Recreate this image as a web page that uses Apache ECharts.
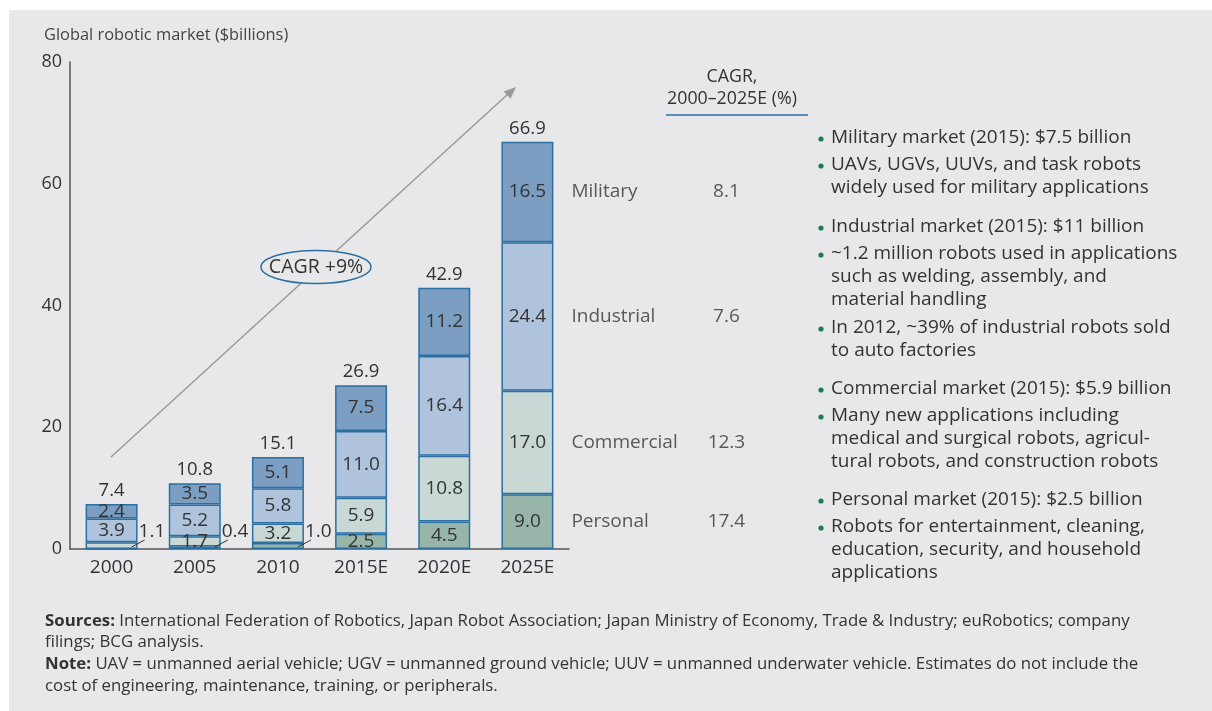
<!DOCTYPE html>
<html>
<head>
<meta charset="utf-8">
<script src="https://cdn.jsdelivr.net/npm/echarts@6/dist/echarts.min.js"></script>
<style>
  html, body { margin: 0; padding: 0; background: #fff; }
  #panel { position: absolute; left: 9px; top: 10px; width: 1203px; height: 701px; background: #e8e8ea; }
  #chart { position: absolute; left: 0; top: 0; width: 1212px; height: 711px; }
</style>
</head>
<body>
<div id="panel"></div>
<div id="chart"></div>
<script>
// values, $ billions
const years = ['2000', '2005', '2010', '2015E', '2020E', '2025E']
const personal = [0, 0.4, 1.0, 2.5, 4.5, 9.0]
const commercial = [1.1, 1.7, 3.2, 5.9, 10.8, 17.0]
const industrial = [3.9, 5.2, 5.8, 11.0, 16.4, 24.4]
const military = [2.4, 3.5, 5.1, 7.5, 11.2, 16.5]
const totals = [7.4, 10.8, 15.1, 26.9, 42.9, 66.9]

// CAGR 2000-2025E (%) per segment, bottom to top
const segmentNames = ['Personal', 'Commercial', 'Industrial', 'Military']
const segmentCagr = [17.4, 12.3, 7.6, 8.1]

// small segments whose value sits outside the bar with a leader line
const callouts = { Commercial: [0], Personal: [1, 2] }

const bullets = [
  [138, ['Military market (2015): $7.5 billion']],
  [165, ['UAVs, UGVs, UUVs, and task robots', 'widely used for military applications']],
  [227, ['Industrial market (2015): $11 billion']],
  [254, ['~1.2 million robots used in applications', 'such as welding, assembly, and', 'material handling']],
  [328, ['In 2012, ~39% of industrial robots sold', 'to auto factories']],
  [389, ['Commercial market (2015): $5.9 billion']],
  [416, ['Many new applications including', 'medical and surgical robots, agricul-', 'tural robots, and construction robots']],
  [500, ['Personal market (2015): $2.5 billion']],
  [527, ['Robots for entertainment, cleaning,', 'education, security, and household', 'applications']]
]

const FONT = '"Open Sans", sans-serif'
const TEXT = '#333'
const EDGE = '#2b6fa3'
const colors = ['#98b5aa', '#c9d8d4', '#b0c3dc', '#7b9ec2']
const seriesValues = [personal, commercial, industrial, military]

const chart = echarts.init(document.getElementById('chart'))

const barSeries = segmentNames.map((name, i) => {
  const outside = callouts[name] || []
  return {
    name,
    type: 'bar',
    stack: 'market',
    barWidth: 52,
    itemStyle: { color: colors[i], borderColor: EDGE, borderWidth: 1.5 },
    label: {
      show: true,
      position: 'inside',
      fontFamily: FONT,
      fontSize: 19,
      color: TEXT,
      formatter: p => (p.value > 0 ? p.value.toFixed(1) : '')
    },
    labelLayout: p => {
      if (outside.indexOf(p.dataIndex) < 0) return {}
      return {
        x: p.rect.x + p.rect.width + 1,
        y: p.rect.y + p.rect.height - 17,
        align: 'left',
        verticalAlign: 'middle'
      }
    },
    data: seriesValues[i]
  }
})

// zero-height bar on top of each stack carries the total
const totalSeries = {
  name: 'Total',
  type: 'bar',
  stack: 'market',
  barWidth: 52,
  itemStyle: { color: 'transparent' },
  label: {
    show: true,
    position: 'top',
    distance: 4,
    fontFamily: FONT,
    fontSize: 18.5,
    color: TEXT,
    formatter: p => totals[p.dataIndex].toFixed(1)
  },
  data: totals.map(() => 0)
}

// segment names and CAGR beside the 2025E bar
let base = 0
const nameSeries = {
  type: 'scatter',
  symbolSize: 0,
  silent: true,
  label: {
    show: true,
    position: 'right',
    distance: 44,
    fontFamily: FONT,
    color: TEXT,
    formatter: p => `{n|${segmentNames[p.dataIndex]}}{c|${segmentCagr[p.dataIndex].toFixed(1)}}`,
    rich: {
      n: { fontFamily: FONT, fontSize: 19, color: TEXT, width: 130 },
      c: { fontFamily: FONT, fontSize: 19, color: TEXT, width: 50, align: 'center' }
    }
  },
  data: seriesValues.map(vals => {
    const v = vals[vals.length - 1]
    const mid = base + v / 2
    base += v
    return ['2025E', mid]
  })
}

// right-hand commentary
const bulletGraphics = []
bullets.forEach(([y, lines], n) => {
  bulletGraphics.push({
    id: 'dot' + n, type: 'circle', shape: { cx: 821, cy: y + 1, r: 2.6 },
    style: { fill: '#1f7a50' }
  })
  bulletGraphics.push({
    id: 'bullet' + n, type: 'text', x: 831, y: y - 11.3,
    style: { text: lines.join('\n'), fontFamily: FONT, fontSize: 19, lineHeight: 22.6, fill: TEXT, verticalAlign: 'top' }
  })
})

chart.setOption({
  backgroundColor: 'transparent',
  animation: false,
  grid: { left: 70, top: 62, width: 499, height: 487, containLabel: false },
  xAxis: {
    type: 'category',
    data: years,
    axisLine: { lineStyle: { color: '#555', width: 1.5 } },
    axisTick: { show: false },
    axisLabel: { fontFamily: FONT, fontSize: 19, color: TEXT, margin: 9 }
  },
  yAxis: {
    type: 'value',
    min: 0,
    max: 80,
    interval: 20,
    splitLine: { show: false },
    axisLine: { show: true, lineStyle: { color: '#555', width: 1.5 } },
    axisTick: { show: false },
    axisLabel: { fontFamily: FONT, fontSize: 18, color: TEXT, margin: 8 }
  },
  series: [...barSeries, totalSeries, nameSeries],
  graphic: [
    {
      id: 'ytitle', type: 'text', left: 44, top: 27,
      style: { text: 'Global robotic market ($billions)', fontFamily: FONT, fontSize: 16.4, fill: '#444' }
    },
    // growth arrow
    {
      id: 'arrowLine', type: 'line', z: 1,
      shape: { x1: 111, y1: 457, x2: 508, y2: 94 },
      style: { stroke: '#9a9a9a', lineWidth: 1.5 }
    },
    {
      id: 'arrowHead', type: 'polygon', z: 1,
      shape: { points: [[516, 87], [510.5, 98.8], [503.7, 91.4]] },
      style: { fill: '#9a9a9a' }
    },
    {
      id: 'cagrOval', type: 'ellipse', z: 5,
      shape: { cx: 316, cy: 267, rx: 55, ry: 16.5 },
      style: { fill: '#e8e8ea', stroke: EDGE, lineWidth: 1.5 }
    },
    {
      id: 'cagrText', type: 'text', z: 6, x: 316, y: 267,
      style: { text: 'CAGR +9%', fontFamily: FONT, fontSize: 19.5, fill: TEXT, align: 'center', verticalAlign: 'middle' }
    },
    // CAGR column header
    {
      id: 'colHead', type: 'text', x: 732, y: 88,
      style: { text: 'CAGR,\n2000–2025E (%)', fontFamily: FONT, fontSize: 17.8, lineHeight: 22, fill: TEXT, align: 'center', verticalAlign: 'middle' }
    },
    {
      id: 'colRule', type: 'line',
      shape: { x1: 666, y1: 115, x2: 808, y2: 115 },
      style: { stroke: EDGE, lineWidth: 1.5 }
    },
    ...bulletGraphics,
    // footnotes
    {
      id: 'notes', type: 'text', left: 45, top: 610,
      style: {
        text: '{b|Sources:} International Federation of Robotics, Japan Robot Association; Japan Ministry of Economy, Trade & Industry; euRobotics; company\nfilings; BCG analysis.\n{b|Note:} UAV = unmanned aerial vehicle; UGV = unmanned ground vehicle; UUV = unmanned underwater vehicle. Estimates do not include the\ncost of engineering, maintenance, training, or peripherals.',
        fontFamily: FONT, fontSize: 16.8, lineHeight: 21.7, fill: TEXT,
        rich: { b: { fontFamily: FONT, fontSize: 16.8, fontWeight: 'bold', fill: TEXT } }
      }
    }
  ]
})

// leader lines for the small segments, placed through the axes
const leaders = []
segmentNames.forEach((name, i) => {
  (callouts[name] || []).forEach(j => {
    let below = 0
    for (let k = 0; k < i; k++) below += seriesValues[k][j]
    const [cx, by] = chart.convertToPixel({ gridIndex: 0 }, [years[j], below])
    leaders.push({
      id: 'leader' + name + j, type: 'line', z: 10,
      shape: { x1: cx + 20, y1: by - 2, x2: cx + 33, y2: by - 9 },
      style: { stroke: '#333', lineWidth: 1 }
    })
  })
})
chart.setOption({ graphic: leaders })
</script>
</body>
</html>
